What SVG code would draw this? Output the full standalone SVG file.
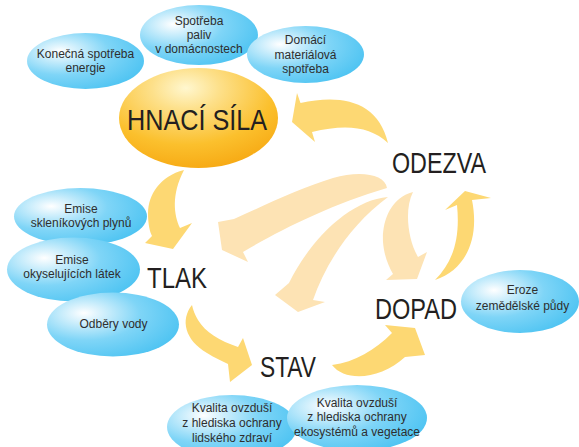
<svg xmlns="http://www.w3.org/2000/svg" width="579" height="447" viewBox="0 0 579 447">
<defs>
<radialGradient id="gBlue" cx="0.3" cy="0.35" r="0.75" fx="0.28" fy="0.32">
<stop offset="0" stop-color="#ffffff"/>
<stop offset="0.12" stop-color="#e2f5fd"/>
<stop offset="0.55" stop-color="#7fd5f7"/>
<stop offset="1" stop-color="#4fc4f2"/>
</radialGradient>
<radialGradient id="gOrange" cx="0.42" cy="0.22" r="0.85" fx="0.42" fy="0.2">
<stop offset="0" stop-color="#fff7cf"/>
<stop offset="0.25" stop-color="#fde08a"/>
<stop offset="0.65" stop-color="#fbc02d"/>
<stop offset="1" stop-color="#f6a50f"/>
</radialGradient>
<style>
.b{fill:url(#gBlue)}
.o{fill:url(#gOrange)}
.t{font-family:"Liberation Sans","Noto Sans",sans-serif;font-size:12px;fill:#2e2e2e;text-anchor:middle}
.L{font-family:"Liberation Sans","Noto Sans",sans-serif;font-size:30px;fill:#231f20}
.ay{fill:#fdd873}
.ap{fill:#fde3b4}
</style>
</defs>

<g id="connectors">
<path class="ap" d="M387,188 C385,174 360,170 333,178 C300,188 265,205 234,219 L218,222 L222,250 L248,262 L243,252 C280,230 330,205 387,188 Z"/>
<path class="ap" d="M388,197 C350,200 310,240 289,283 L275,295 L298,312 L325,302 L313,300 C325,265 350,225 388,197 Z"/>
<path class="ap" d="M413,192 C390,198 382,222 383,242 C384,255 388,265 393,274 L386,280 L417,279 L427,252 L418,257 C408,240 404,210 413,192 Z"/>
<path class="ay" d="M292,122 L297,93 L300.5,103 C340,94 378,100 388,143 C370,126 345,124 312,132 L315,142 Z"/>
<path class="ay" d="M184,170 C160,176 148,195 148,213 C148,225 150,232 152,236 L145,243 L173,249 L192,223 L180,228 C174,215 171,195 184,170 Z"/>
<path class="ay" d="M192,305 C180,320 185,340 207,353 C215,358 222,361 228,364 L230,382 L252,365 L243,338 L238,347 C220,341 205,332 198,320 C195,315 193,310 192,305 Z"/>
<path class="ay" d="M332,365 C345,382 380,380 405,357 L425,355 L415,328 L385,325 L392,333 C375,350 355,362 332,365 Z"/>
<path class="ay" d="M435,280 C465,270 480,240 472,200 L491,198 L465,191 L445,210 L457,205 C460,235 455,260 435,280 Z"/>
</g>

<g id="konecna-spotreba">
<ellipse class="b" cx="85.5" cy="61" rx="58.5" ry="28"/>
<text class="t" x="85.5" y="58">Konečná spotřeba</text>
<text class="t" x="85.5" y="72">energie</text>
</g>
<g id="spotreba-paliv">
<ellipse class="b" cx="199" cy="35" rx="59" ry="30"/>
<text class="t" x="199" y="25">Spotřeba</text>
<text class="t" x="199" y="39">paliv</text>
<text class="t" x="199" y="53">v domácnostech</text>
</g>
<g id="domaci-spotreba">
<ellipse class="b" cx="305.5" cy="54.5" rx="58.5" ry="28.5"/>
<text class="t" x="305.5" y="44">Domácí</text>
<text class="t" x="305.5" y="58.5">materiálová</text>
<text class="t" x="305.5" y="73">spotřeba</text>
</g>
<g id="hnaci-sila">
<ellipse class="o" cx="198.5" cy="118" rx="79.5" ry="50"/>
<text class="L" x="127" y="130" font-size="31" textLength="140" lengthAdjust="spacingAndGlyphs">HNACÍ SÍLA</text>
</g>
<g id="emise-sklenikovych">
<ellipse class="b" cx="80.5" cy="216.5" rx="66.5" ry="28.5"/>
<text class="t" x="81" y="213">Emise</text>
<text class="t" x="81" y="227">skleníkových plynů</text>
</g>
<g id="emise-okyselujicich">
<ellipse class="b" cx="73.5" cy="269.5" rx="66.5" ry="32"/>
<text class="t" x="72" y="264">Emise</text>
<text class="t" x="72" y="278">okyselujících látek</text>
</g>
<g id="odbery-vody">
<ellipse class="b" cx="113" cy="324.5" rx="66" ry="32"/>
<text class="t" x="113.5" y="328">Odběry vody</text>
</g>
<g id="tlak">
<text class="L" x="147" y="288" textLength="60" lengthAdjust="spacingAndGlyphs">TLAK</text>
</g>
<g id="odezva">
<text class="L" x="392" y="173" textLength="94" lengthAdjust="spacingAndGlyphs">ODEZVA</text>
</g>
<g id="dopad">
<text class="L" x="375" y="319" textLength="82" lengthAdjust="spacingAndGlyphs">DOPAD</text>
</g>
<g id="eroze">
<ellipse class="b" cx="520" cy="301.5" rx="59" ry="31.5"/>
<text class="t" x="522.5" y="294">Eroze</text>
<text class="t" x="522.5" y="310">zemědělské půdy</text>
</g>
<g id="stav">
<text class="L" x="260" y="377" textLength="56" lengthAdjust="spacingAndGlyphs">STAV</text>
</g>
<g id="kvalita-zdravi">
<ellipse class="b" cx="232" cy="427" rx="65" ry="32"/>
<text class="t" x="232" y="412">Kvalita ovzduší</text>
<text class="t" x="232" y="427">z hlediska ochrany</text>
<text class="t" x="232" y="442">lidského zdraví</text>
</g>
<g id="kvalita-ekosystemy">
<ellipse class="b" cx="357" cy="418" rx="70" ry="33"/>
<text class="t" x="357" y="407">Kvalita ovzduší</text>
<text class="t" x="357" y="421">z hlediska ochrany</text>
<text class="t" x="357" y="436">ekosystémů a vegetace</text>
</g>
</svg>
